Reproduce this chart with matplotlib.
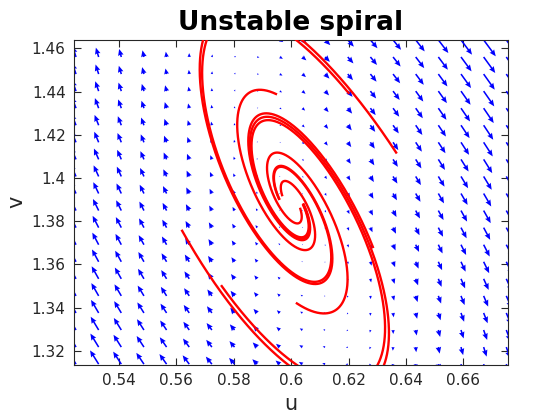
import numpy as np
import matplotlib
matplotlib.use("Agg")
import matplotlib.pyplot as plt

# Schnakenberg model parameters (fixed point u*=a+b, v*=b/(a+b)^2)
a_param = 0.1
b_param = 0.5

# Axis ranges and quiver grid
u_lim = [0.5243, 0.6756]
v_lim = [1.3135, 1.4641]
u_grid = [0.525, 0.675]
v_grid = [1.3139, 1.4639]
n_grid = 20

x_ticks = [0.54, 0.56, 0.58, 0.60, 0.62, 0.64, 0.66]
x_tick_labels = ["0.54", "0.56", "0.58", "0.6", "0.62", "0.64", "0.66"]
y_ticks = [1.32, 1.34, 1.36, 1.38, 1.40, 1.42, 1.44, 1.46]
y_tick_labels = ["1.32", "1.34", "1.36", "1.38", "1.4", "1.42", "1.44", "1.46"]

# end points of the red trajectories
traj_end_u = [0.5947, 0.6020, 0.6200, 0.6366, 0.5758, 0.5620, 0.6285]
traj_end_v = [1.4389, 1.3420, 1.4394, 1.4118, 1.3500, 1.3756, 1.3681]
stop_radius = 0.0045


def field(u, v):
    return a_param - u + u * u * v, b_param - u * u * v


def backward_path(u0, v0, dt=0.01, tmax=80.0):
    us, vs = [u0], [v0]
    uc = a_param + b_param
    vc = b_param / uc ** 2
    u, v = u0, v0
    t = 0.0
    while t < tmax:
        k1 = field(u, v)
        k2 = field(u - 0.5 * dt * k1[0], v - 0.5 * dt * k1[1])
        k3 = field(u - 0.5 * dt * k2[0], v - 0.5 * dt * k2[1])
        k4 = field(u - dt * k3[0], v - dt * k3[1])
        u = u - dt / 6 * (k1[0] + 2 * k2[0] + 2 * k3[0] + k4[0])
        v = v - dt / 6 * (k1[1] + 2 * k2[1] + 2 * k3[1] + k4[1])
        us.append(u)
        vs.append(v)
        t += dt
        if np.hypot(u - uc, v - vc) < stop_radius:
            break
    return np.array(us), np.array(vs)


fig = plt.figure(figsize=(5.6, 4.2), dpi=100)
ax = fig.add_axes([74 / 560, 1 - 365 / 420, (508 - 74) / 560, (365 - 39.5) / 420])

U, V = np.meshgrid(np.linspace(*u_grid, n_grid), np.linspace(*v_grid, n_grid))
DU, DV = field(U, V)
# MATLAB-like quiver autoscaling
delx = (u_grid[1] - u_grid[0]) / n_grid
dely = (v_grid[1] - v_grid[0]) / n_grid
scl = 0.9 * np.sqrt(delx ** 2 + dely ** 2) / np.max(np.hypot(DU, DV))
ax.quiver(U, V, DU * scl, DV * scl, angles="xy", scale_units="xy", scale=1,
          color="blue", width=0.0036, headwidth=3.6, headlength=4.2,
          headaxislength=3.8, minlength=0.5, zorder=2)

for ue, ve in zip(traj_end_u, traj_end_v):
    pu, pv = backward_path(ue, ve)
    ax.plot(pu, pv, color="red", lw=1.7, zorder=3)

ax.set_xlim(u_lim)
ax.set_ylim(v_lim)
ax.set_xticks(x_ticks)
ax.set_xticklabels(x_tick_labels)
ax.set_yticks(y_ticks)
ax.set_yticklabels(y_tick_labels)
ax.tick_params(direction="in", top=True, right=True, length=5, width=0.8,
               labelsize=11, colors="#262626", pad=6)
for s in ax.spines.values():
    s.set_color("#262626")
    s.set_linewidth(0.8)
ax.set_xlabel("u", fontsize=15, color="#262626")
ax.set_ylabel("v", fontsize=15, color="#262626")
ax.set_title("Unstable spiral", fontsize=19, fontweight="bold", pad=7)

fig.savefig("out.png", dpi=100)
